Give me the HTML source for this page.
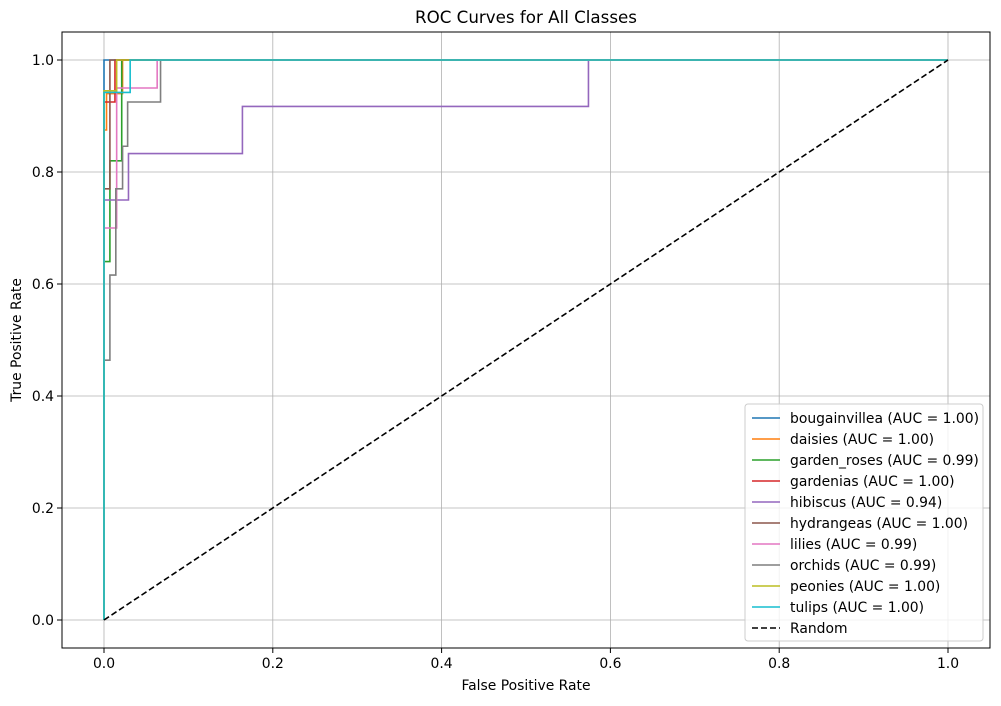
<!DOCTYPE html>
<html><head><meta charset="utf-8"><style>
body{margin:0;background:#fff;}
svg text{font-family:"DejaVu Sans","Liberation Sans",sans-serif;fill:#000;}
</style></head><body>
<svg id="chart" width="1001" height="701" xmlns="http://www.w3.org/2000/svg">
<rect width="1001" height="701" fill="#fff"/>
<g id="grid"></g>
<g id="curves"></g>
<rect x="62" y="32" width="928" height="616" fill="none" stroke="#000" stroke-width="1"/>
<g id="ticks"></g>
<text x="526" y="23" font-size="16.7" text-anchor="middle">ROC Curves for All Classes</text>
<text x="526" y="690" font-size="13.9" text-anchor="middle">False Positive Rate</text>
<text x="21" y="340" font-size="13.9" text-anchor="middle" transform="rotate(-90 21 340)">True Positive Rate</text>
<g id="legend"></g>
</svg>
<script>
const classNames=["bougainvillea","daisies","garden_roses","gardenias","hibiscus","hydrangeas","lilies","orchids","peonies","tulips"];
const aucValues=["1.00","1.00","0.99","1.00","0.94","1.00","0.99","0.99","1.00","1.00"];
const colors=["#1f77b4","#ff7f0e","#2ca02c","#d62728","#9467bd","#8c564b","#e377c2","#7f7f7f","#bcbd22","#17becf"];
const fprs=[
[0,0,1],
[0,0,0.003,0.003,0.022,0.022,1],
[0,0,0.007,0.007,0.021,0.021,1],
[0,0,0.013,0.013,1],
[0,0,0.029,0.029,0.164,0.164,0.574,0.574,1],
[0,0,0.007,0.007,1],
[0,0,0.015,0.015,0.063,0.063,1],
[0,0,0.007,0.007,0.014,0.014,0.022,0.022,0.028,0.028,0.067,0.067,1],
[0,0,0.015,0.015,1],
[0,0,0.031,0.031,1]];
const tprs=[
[0,1,1],
[0,0.875,0.875,0.94,0.94,1,1],
[0,0.64,0.64,0.82,0.82,1,1],
[0,0.925,0.925,1,1],
[0,0.75,0.75,0.833,0.833,0.917,0.917,1,1],
[0,0.77,0.77,1,1],
[0,0.70,0.70,0.95,0.95,1,1],
[0,0.464,0.464,0.616,0.616,0.77,0.77,0.846,0.846,0.925,0.925,1,1],
[0,0.945,0.945,1,1],
[0,0.942,0.942,1,1]];
const xTicks=[0,0.2,0.4,0.6,0.8,1.0];
const yTicks=[0,0.2,0.4,0.6,0.8,1.0];
const NS="http://www.w3.org/2000/svg";
const X=v=>104+v*844, Y=v=>620-v*560;
function mk(t,a,p){const e=document.createElementNS(NS,t);for(const k in a)e.setAttribute(k,a[k]);p.appendChild(e);return e;}
const grid=document.getElementById('grid'),ticks=document.getElementById('ticks');
xTicks.forEach(v=>{
 const g=mk('line',{x1:X(v),x2:X(v),y1:32,y2:648,stroke:'#b0b0b0','stroke-width':0.8},grid);
 
 
 mk('line',{x1:X(v),x2:X(v),y1:648,y2:653,stroke:'#000'},ticks);
 const t=mk('text',{x:X(v),y:668,'font-size':13.9,'text-anchor':'middle'},ticks);t.textContent=v.toFixed(1);
 
 
});
yTicks.forEach(v=>{
 const g=mk('line',{x1:62,x2:990,y1:Y(v),y2:Y(v),stroke:'#b0b0b0','stroke-width':0.8},grid);
 
 
 mk('line',{x1:57,x2:62,y1:Y(v),y2:Y(v),stroke:'#000'},ticks);
 const t=mk('text',{x:54,y:Y(v)+5,'font-size':13.9,'text-anchor':'end'},ticks);t.textContent=v.toFixed(1);
 
 
});
const curves=document.getElementById('curves');
classNames.forEach((n,i)=>{
 const pts=fprs[i].map((f,j)=>X(f)+','+Y(tprs[i][j])).join(' ');
 const p=mk('polyline',{points:pts,fill:'none',stroke:colors[i],'stroke-width':1.6},curves);
 
 
});
const r=mk('line',{x1:X(0),y1:Y(0),x2:X(1),y2:Y(1),stroke:'#000','stroke-width':1.6,'stroke-dasharray':'6,3'},curves);


const lg=document.getElementById('legend');


mk('rect',{x:745,y:404,width:238,height:237,rx:3,fill:'#fff','fill-opacity':0.8,stroke:'#ccc'},lg);
const labels=classNames.map((n,i)=>n+' (AUC = '+aucValues[i]+')').concat(['Random']);
labels.forEach((l,i)=>{
 const y=418+i*21;
 const ln=mk('line',{x1:752,x2:780,y1:y,y2:y,stroke:i<10?colors[i]:'#000','stroke-width':1.6},lg);
 if(i==10)ln.setAttribute('stroke-dasharray','6,3');
 const t=mk('text',{x:790,y:y+5,'font-size':13.9},lg);t.textContent=l;
 
 
});
</script>
</body></html>
